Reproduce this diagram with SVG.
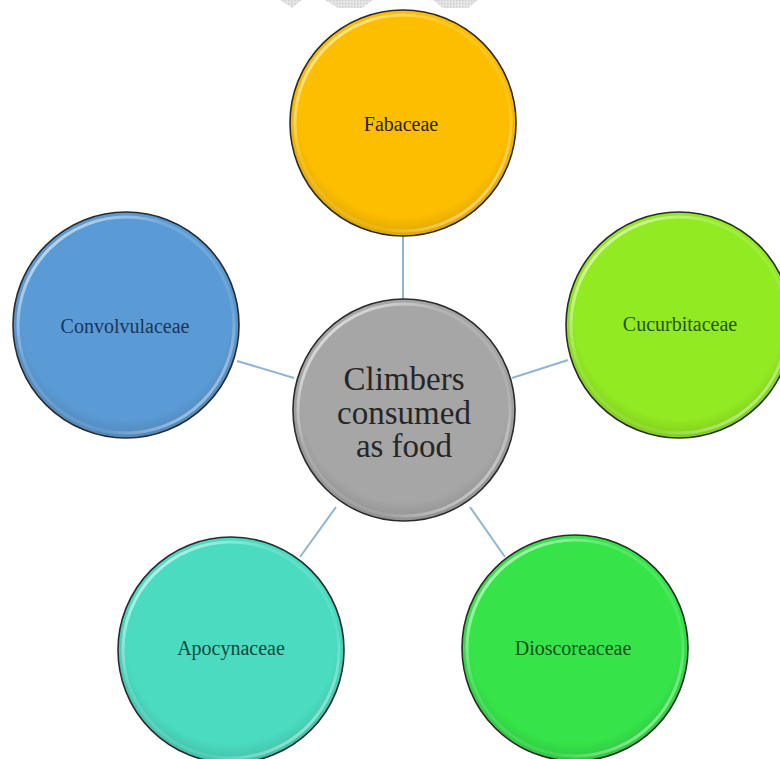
<svg xmlns="http://www.w3.org/2000/svg" width="780" height="759" viewBox="0 0 780 759">
  <defs>
    <pattern id="hatch" width="3" height="3" patternUnits="userSpaceOnUse">
      <rect width="3" height="3" fill="#e6e6e6"/>
      <rect width="1.5" height="1.5" fill="#cfcfcf"/>
    </pattern>
    <linearGradient id="gloss" x1="0" y1="0" x2="1" y2="1">
      <stop offset="0" stop-color="#ffffff" stop-opacity="0.85"/>
      <stop offset="0.35" stop-color="#ffffff" stop-opacity="0.15"/>
      <stop offset="0.7" stop-color="#ffffff" stop-opacity="0.1"/>
      <stop offset="1" stop-color="#ffffff" stop-opacity="0.7"/>
    </linearGradient>
    <radialGradient id="shade" cx="0.5" cy="0.45" r="0.55">
      <stop offset="0.85" stop-color="#000" stop-opacity="0"/>
      <stop offset="1" stop-color="#000" stop-opacity="0.12"/>
    </radialGradient>
  </defs>
  <style>
    .node { stroke: #2b2b2b; stroke-width: 1.6; }
    .hl { fill: none; stroke: url(#gloss); stroke-width: 3; }
    .sh { fill: url(#shade); stroke: none; }
    .lbl { font-family: "Liberation Serif", "Times New Roman", serif; font-size: 20px; text-anchor: middle; }
    .center { font-family: "Liberation Serif", "Times New Roman", serif; font-size: 33px; text-anchor: middle; fill: #262626; }
    .conn { stroke: #8fb4d6; stroke-width: 2; fill: none; }
  </style>
  <rect width="780" height="759" fill="#ffffff"/>
  <g id="watermark">
    <polygon points="280,0 302,0 292,8" fill="url(#hatch)"/>
    <polygon points="325,0 373,0 362,8 338,8" fill="url(#hatch)"/>
    <polygon points="433,0 478,0 468,8 443,8" fill="url(#hatch)"/>
  </g>
  <g id="connectors">
    <line class="conn" x1="403" y1="236" x2="403" y2="300"/>
    <line class="conn" x1="237" y1="361" x2="294" y2="378"/>
    <line class="conn" x1="512" y1="378" x2="568" y2="360"/>
    <line class="conn" x1="300" y1="557" x2="336" y2="507"/>
    <line class="conn" x1="470" y1="507" x2="505" y2="557"/>
  </g>
  <g id="node-center">
    <circle class="node" cx="404" cy="410" r="111" fill="#a6a6a6"/>
    <circle class="sh" cx="404" cy="410" r="110"/>
    <circle class="hl" cx="404" cy="410" r="106"/>
    <text class="center" x="404" y="390">Climbers<tspan x="404" dy="33.5">consumed</tspan><tspan x="404" dy="33.5">as food</tspan></text>
  </g>
  <g id="node-fabaceae">
    <circle class="node" cx="403" cy="123" r="113" fill="#fdbe00"/>
    <circle class="sh" cx="403" cy="123" r="112"/>
    <circle class="hl" cx="403" cy="123" r="108"/>
    <text class="lbl" x="401" y="131" fill="#2a2000">Fabaceae</text>
  </g>
  <g id="node-convolvulaceae">
    <circle class="node" cx="126" cy="325" r="113" fill="#5b9bd5"/>
    <circle class="sh" cx="126" cy="325" r="112"/>
    <circle class="hl" cx="126" cy="325" r="108"/>
    <text class="lbl" x="125" y="333" fill="#1b3559">Convolvulaceae</text>
  </g>
  <g id="node-cucurbitaceae">
    <circle class="node" cx="679" cy="325" r="113" fill="#92ea22"/>
    <circle class="sh" cx="679" cy="325" r="112"/>
    <circle class="hl" cx="679" cy="325" r="108"/>
    <text class="lbl" x="680" y="331" fill="#245410">Cucurbitaceae</text>
  </g>
  <g id="node-apocynaceae">
    <circle class="node" cx="231" cy="650" r="113" fill="#4adbc0"/>
    <circle class="sh" cx="231" cy="650" r="112"/>
    <circle class="hl" cx="231" cy="650" r="108"/>
    <text class="lbl" x="231" y="655" fill="#0f4a3c">Apocynaceae</text>
  </g>
  <g id="node-dioscoreaceae">
    <circle class="node" cx="575" cy="648" r="113" fill="#36e44a"/>
    <circle class="sh" cx="575" cy="648" r="112"/>
    <circle class="hl" cx="575" cy="648" r="108"/>
    <text class="lbl" x="573" y="655" fill="#11541c">Dioscoreaceae</text>
  </g>
</svg>
